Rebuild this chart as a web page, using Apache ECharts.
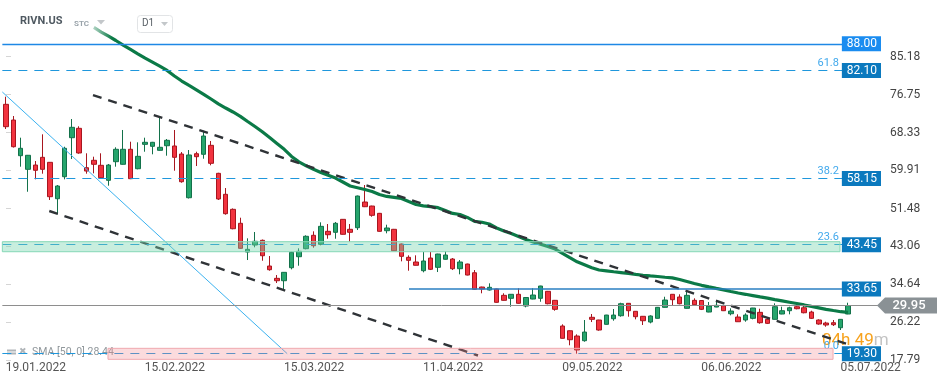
<!DOCTYPE html>
<html><head><meta charset="utf-8">
<script src="https://cdn.jsdelivr.net/npm/echarts@6/dist/echarts.min.js"></script>
<style>html,body{margin:0;padding:0;background:#fff;}#c{width:949px;height:385px;}</style>
</head><body><div id="c"></div>
<script>
// ---------- data ----------
const dates = [
 '18.01.2022','19.01.2022','20.01.2022','21.01.2022','24.01.2022','25.01.2022','26.01.2022','27.01.2022','28.01.2022','31.01.2022',
 '01.02.2022','02.02.2022','03.02.2022','04.02.2022','07.02.2022','08.02.2022','09.02.2022','10.02.2022','11.02.2022','14.02.2022','15.02.2022','16.02.2022','17.02.2022','18.02.2022','22.02.2022','23.02.2022','24.02.2022','25.02.2022','28.02.2022',
 '01.03.2022','02.03.2022','03.03.2022','04.03.2022','07.03.2022','08.03.2022','09.03.2022','10.03.2022','11.03.2022','14.03.2022','15.03.2022','16.03.2022','17.03.2022','18.03.2022','21.03.2022','22.03.2022','23.03.2022','24.03.2022','25.03.2022','28.03.2022','29.03.2022','30.03.2022','31.03.2022',
 '01.04.2022','04.04.2022','05.04.2022','06.04.2022','07.04.2022','08.04.2022','11.04.2022','12.04.2022','13.04.2022','14.04.2022','18.04.2022','19.04.2022','20.04.2022','21.04.2022','22.04.2022','25.04.2022','26.04.2022','27.04.2022','28.04.2022','29.04.2022',
 '02.05.2022','03.05.2022','04.05.2022','05.05.2022','06.05.2022','09.05.2022','10.05.2022','11.05.2022','12.05.2022','13.05.2022','16.05.2022','17.05.2022','18.05.2022','19.05.2022','20.05.2022','23.05.2022','24.05.2022','25.05.2022','26.05.2022','27.05.2022','31.05.2022',
 '01.06.2022','02.06.2022','03.06.2022','06.06.2022','07.06.2022','08.06.2022','09.06.2022','10.06.2022','13.06.2022','14.06.2022','15.06.2022','16.06.2022','17.06.2022','21.06.2022','22.06.2022','23.06.2022','24.06.2022','27.06.2022','28.06.2022','29.06.2022','30.06.2022',
 '01.07.2022','05.07.2022'
];
// [open, close, low, high]
const ohlc = [
 [74.58,69.62,69.11,76.27],[71.10,65.18,65.00,71.99],[63.19,64.83,60.75,67.18],[60.17,63.28,55.20,63.35],[61.12,59.95,57.95,62.01],
 [62.83,60.17,59.20,67.93],[61.72,54.10,53.37,61.79],[53.65,56.47,50.19,56.69],[58.53,64.83,57.95,65.18],[67.18,69.48,62.46,71.32],
 [69.26,63.79,63.63,69.71],[60.53,59.79,59.20,63.72],[62.17,61.28,59.28,62.97],[61.06,58.31,58.18,63.72],[57.73,61.12,56.54,61.35],
 [61.86,64.61,60.75,65.05],[61.28,64.61,61.20,68.89],[64.61,58.09,58.00,66.29],[60.30,63.05,60.17,66.16],[65.71,66.16,64.07,67.18],
 [65.27,66.16,63.50,66.25],[64.38,65.05,64.30,71.83],[65.40,66.60,63.19,66.89],[65.34,62.83,59.86,68.89],[63.56,57.42,57.20,64.00],
 [53.87,63.35,53.70,64.45],[63.63,62.97,60.90,64.07],[63.50,67.55,62.52,68.73],[65.49,61.50,61.06,66.45],[59.28,53.59,53.37,59.40],
 [54.63,50.33,50.11,56.02],[51.30,47.00,46.87,51.50],[48.20,42.65,42.55,49.44],[41.83,42.43,40.06,44.87],[43.39,44.21,42.88,46.27],
 [44.43,41.01,39.90,44.60],[38.73,37.91,37.69,40.95],[36.00,35.47,34.96,36.73],[35.47,37.33,33.63,37.40],[38.35,41.77,37.99,41.90],
 [40.79,41.99,38.80,42.65],[42.57,45.32,42.43,45.54],[45.54,43.23,42.79,46.42],[43.54,47.53,43.32,48.42],[46.42,45.67,44.78,48.04],
 [46.20,48.20,44.78,48.49],[49.08,45.76,45.70,49.15],[46.87,46.20,44.12,48.04],[47.22,54.25,46.71,54.35],[52.92,51.88,51.80,56.69],
 [52.03,49.97,49.66,52.10],[50.41,46.42,46.35,50.50],[46.56,47.16,45.98,47.89],[46.87,42.12,42.05,46.95],[43.61,40.88,39.77,43.70],
 [40.66,39.99,37.69,41.10],[39.62,38.89,38.85,41.10],[37.69,39.84,37.33,41.83],[40.50,38.00,37.84,41.83],[38.44,41.39,37.40,41.45],
 [40.22,41.17,40.15,41.99],[40.28,38.13,37.84,40.50],[38.13,39.62,36.89,40.06],[39.17,36.73,36.65,39.25],[37.24,33.56,33.41,37.84],
 [34.07,33.63,32.68,34.15],[33.41,34.01,33.30,34.89],[33.63,30.68,30.60,33.70],[32.23,31.12,31.05,32.68],[31.57,32.46,29.71,32.50],
 [32.46,30.46,30.40,33.79],[29.86,31.75,29.57,31.80],[31.41,32.30,31.35,33.79],[31.57,34.30,30.81,34.35],[33.12,30.37,30.24,33.20],
 [31.12,29.13,28.82,31.20],[25.43,22.70,22.65,25.80],[24.38,22.39,21.15,24.45],[23.21,20.11,19.30,23.58],[22.17,24.09,21.95,26.76],
 [27.36,26.91,26.31,28.09],[26.76,24.54,24.38,26.80],[25.80,27.86,25.75,27.90],[27.04,27.86,26.60,29.20],[27.71,30.37,27.49,30.59],
 [30.46,28.82,27.49,30.50],[28.69,27.49,26.91,28.75],[27.58,26.60,25.65,27.65],[26.31,27.65,26.02,27.80],[27.13,29.57,27.08,29.65],
 [29.57,31.19,29.52,31.92],[32.46,31.26,30.08,32.50],[31.86,30.37,30.24,32.46],[29.35,32.23,29.30,32.97],[31.12,30.15,30.12,31.57],
 [31.08,29.13,28.97,31.15],[28.53,29.86,28.48,30.75],[29.64,30.02,29.60,31.19],[29.93,28.82,28.75,29.98],[28.15,28.75,27.80,29.35],
 [27.42,26.38,26.35,28.02],[26.76,27.86,26.38,28.24],[27.13,29.42,26.91,29.45],[28.46,26.16,25.94,29.26],[26.91,26.02,25.87,27.36],
 [26.91,29.71,26.87,30.46],[28.09,28.82,28.05,29.71],[28.82,29.48,28.02,29.71],[29.71,29.26,29.13,30.59],[29.48,28.37,28.24,30.02],
 [28.53,27.13,26.98,28.82],[26.76,25.87,25.72,26.91],[26.09,25.65,25.27,26.38],[26.16,25.72,25.43,26.76],[25.05,26.91,24.54,26.95],
 [28.09,29.95,28.05,30.59]
];
const sma50 = [null,null,null,null,null,null,null,null,null,null,null,null,
 91.63,90.61,89.68,88.73,87.73,86.76,85.78,84.81,83.92,83.03,82.10,80.86,79.75,78.77,77.80,76.80,75.76,74.67,
 73.76,72.88,71.92,70.77,69.66,68.49,67.20,65.91,64.61,63.03,61.83,60.95,60.17,59.48,58.84,58.22,57.36,56.47,
 56.09,55.71,55.25,54.58,54.16,53.96,53.70,53.03,52.37,52.08,51.88,51.66,51.04,50.39,50.15,49.51,48.64,48.44,
 48.04,47.16,46.49,45.94,45.29,44.63,44.05,43.56,43.08,42.50,41.55,40.59,39.66,39.00,38.33,37.84,37.66,37.46,
 37.27,37.07,36.87,36.69,36.53,36.40,36.24,36.09,35.74,35.31,34.87,34.45,34.10,33.76,33.43,33.08,32.74,32.46,
 32.17,31.88,31.61,31.28,30.99,30.70,30.41,30.10,29.77,29.46,29.13,28.86,28.60,28.44];
const yTicks = [17.79, 26.22, 34.64, 43.06, 51.48, 59.91, 68.33, 76.75, 85.18];
const xTickDates = ['19.01.2022','15.02.2022','15.03.2022','11.04.2022','09.05.2022','06.06.2022','05.07.2022'];
const highLevel = 88.00;
const fibPrices = [82.10, 58.15, 43.45, 19.30];
const fibRatios = ['61.8', '38.2', '23.6', '0.0'];
const resistLevel = 33.65;
const lastPrice = 29.95;
const smaLabel = 'SMA [50, 0] 28.44';
const boxPrices = [88.00, 82.10, 58.15, 43.45, 33.65, 19.30];
// drawing-tool anchors: [bar index, price]
const upperTrend = [[11.88, 76.64], [114.86, 21.43]];
const lowerTrend = [[5.91, 50.93], [64.46, 18.89]];
const fibDiagonal = [[-0.5, 77.31], [38.4, 19.30]];
const greenZone = [-0.5, 41.90, 113.9, 44.12];
const pinkZone = [13.93, 18.04, 112.95, 20.48];
const levelEnd = 114.6, fibEnd = 114.3, resistStart = 55.04;

// ---------- chart ----------
const padSlots = 4;
const cats = dates.concat(new Array(padSlots).fill(''));
const xMin = -0.5, xMax = cats.length - 0.5;
const yMin = 17.45, yMax = 97.71;
const FONT = 'Roboto';

const chart = echarts.init(document.getElementById('c'), null, {renderer: 'canvas'});

const fibLines = fibPrices.map((p, i) => [
  {coord: [xMin, p], lineStyle: {color: '#1f97dc', width: 1.2, type: [9, 7]},
   label: {show: true, position: 'insideEndTop', formatter: fibRatios[i], color: '#42a9ec',
           fontSize: 11, fontFamily: FONT, distance: [4, 2]}},
  {coord: [fibEnd, p]}
]);

const zoneRender = (fill, stroke) => function (params, api) {
  const a = api.coord([api.value(0), api.value(1)]);
  const b = api.coord([api.value(2), api.value(3)]);
  return {type: 'rect',
    shape: {x: Math.min(a[0], b[0]), y: Math.min(a[1], b[1]), width: Math.abs(b[0] - a[0]), height: Math.abs(b[1] - a[1])},
    style: {fill: fill, stroke: stroke, lineWidth: 1}};
};

const option = {
  animation: false,
  backgroundColor: '#fff',
  grid: {left: 2.34, right: 68, top: 0, bottom: 23, containLabel: false, outerBoundsMode: 'none'},
  xAxis: [
    {type: 'category', data: cats, boundaryGap: true, gridIndex: 0,
     axisLine: {show: false}, axisTick: {show: false}, splitLine: {show: false},
     axisLabel: {interval: (i, v) => xTickDates.indexOf(v) >= 0, color: '#555', fontSize: 12, fontFamily: FONT,
                 margin: 0, padding: [0, 0, 0, 45], hideOverlap: false}},
    {type: 'value', min: xMin, max: xMax, show: false, gridIndex: 0}
  ],
  yAxis: [
    {type: 'value', position: 'right', min: yMin, max: yMax, scale: true,
     splitLine: {show: false}, axisLine: {show: false},
     axisTick: {show: true, length: 5, lineStyle: {color: '#d5d5d5'}, customValues: yTicks},
     axisLabel: {customValues: yTicks, formatter: v => v.toFixed(2), color: '#444', fontSize: 12, fontFamily: FONT, margin: 9}},
    {type: 'value', position: 'right', min: yMin, max: yMax, scale: true,
     splitLine: {show: false}, axisLine: {show: false}, axisTick: {show: false},
     axisLabel: {inside: true, margin: 0, customValues: boxPrices,
       formatter: v => (Math.abs(v - highLevel) < 1e-6 ? '{a|' : '{b|') + v.toFixed(2) + '}',
       rich: {
         a: {backgroundColor: '#1a8cf0', color: '#fff', fontSize: 12, fontFamily: FONT, padding: [2, 4, 1, 5], lineHeight: 12},
         b: {backgroundColor: '#0b79be', color: '#fff', fontSize: 12, fontFamily: FONT, padding: [2, 4, 1, 5], lineHeight: 12}
       }}, z: 20}
  ],
  series: [
    {type: 'candlestick', name: 'RIVN.US', xAxisIndex: 0, yAxisIndex: 0, data: ohlc, barWidth: 5, z: 2,
     itemStyle: {color: '#25a56c', color0: '#f2333f', borderColor: '#13714a', borderColor0: '#a8161f', borderWidth: 1}},
    {type: 'line', name: 'SMA50', xAxisIndex: 0, yAxisIndex: 0, data: sma50, showSymbol: false, z: 3,
     lineStyle: {width: 3.2, color: new echarts.graphic.LinearGradient(86, 0, 112, 0,
        [{offset: 0, color: 'rgba(11,122,71,0.05)'}, {offset: 1, color: '#0b7a47'}], true)}},
    {type: 'line', xAxisIndex: 1, yAxisIndex: 0, data: upperTrend, showSymbol: false, z: 4,
     lineStyle: {color: '#2f3337', width: 2.4, type: [9, 7]}},
    {type: 'line', xAxisIndex: 1, yAxisIndex: 0, data: lowerTrend, showSymbol: false, z: 4,
     lineStyle: {color: '#2f3337', width: 2.4, type: [9, 7]}},
    {type: 'line', xAxisIndex: 1, yAxisIndex: 0, data: fibDiagonal, showSymbol: false, z: 4,
     lineStyle: {color: '#3bb2f0', width: 1}},
    {type: 'line', xAxisIndex: 1, yAxisIndex: 0, data: [], z: 6,
     markLine: {silent: true, symbol: ['none', 'none'], animation: false, label: {show: false},
       data: [
         [{coord: [xMin, highLevel], lineStyle: {color: '#1e88e5', width: 1.3, type: 'solid'}}, {coord: [levelEnd, highLevel]}],
         ...fibLines,
         [{coord: [resistStart, resistLevel], lineStyle: {color: '#2a7fc2', width: 1.6, type: 'solid'}}, {coord: [levelEnd, resistLevel]}],
         [{coord: [xMin, lastPrice], lineStyle: {color: '#8e8e8e', width: 1, type: 'solid'}}, {coord: [xMax, lastPrice]}]
       ]},
     markPoint: {silent: true, animation: false,
       data: [{coord: [xMax, lastPrice], symbol: 'path://M0,8 L8,0 L60,0 L60,16 L8,16 Z', symbolSize: [60, 16],
               symbolKeepAspect: false, symbolOffset: [26, 0], itemStyle: {color: '#8a9195'},
               label: {show: true, position: 'inside', formatter: lastPrice.toFixed(2), color: '#fff', fontSize: 13,
                       fontFamily: FONT, fontWeight: 500, offset: [2, 0]}}]}},
    {type: 'custom', xAxisIndex: 1, yAxisIndex: 0, data: [greenZone], z: 8, silent: true,
     renderItem: zoneRender('rgba(118,212,172,0.4)', '#86d8b6')},
    {type: 'custom', xAxisIndex: 1, yAxisIndex: 0, data: [pinkZone], z: 8, silent: true,
     renderItem: zoneRender('rgba(242,135,142,0.3)', '#f0aab0')}
  ],
  graphic: [
    {type: 'text', left: 20, top: 16, style: {text: 'RIVN.US', font: 'bold 11px Roboto', fill: '#4f5961'}},
    {type: 'text', left: 74, top: 20, style: {text: 'STC', font: 'bold 8px Roboto', fill: '#9aa4ab'}},
    {type: 'polygon', shape: {points: [[97, 20], [105, 20], [101, 24.5]]}, style: {fill: '#c3c7ca'}},
    {type: 'rect', shape: {x: 137.5, y: 15.5, width: 35, height: 17, r: 3}, style: {fill: 'none', stroke: '#e2e4e6', lineWidth: 1}},
    {type: 'text', left: 142, top: 18, style: {text: 'D1', font: '10px Roboto', fill: '#5a6167'}},
    {type: 'polygon', shape: {points: [[161, 22], [168, 22], [164.5, 26]]}, style: {fill: '#c3c7ca'}},
    {type: 'rect', shape: {x: 7, y: 349.5, width: 9, height: 2}, style: {fill: '#b0b5b9'}},
    {type: 'rect', shape: {x: 7, y: 352.5, width: 9, height: 2}, style: {fill: '#b0b5b9'}},
    {type: 'text', left: 19, top: 347, style: {text: '✖', font: '9px DejaVu Sans', fill: '#b0b5b9'}},
    {type: 'text', left: 32, top: 347, style: {text: smaLabel, font: '10.5px Roboto', fill: 'rgba(125,133,138,0.85)'}},
    {type: 'text', left: 822, top: 332, z: 1,
     style: {text: '{o|04h 49}{g|m}', rich: {o: {font: '17px Roboto', fill: '#f7a21c'}, g: {font: '17px Roboto', fill: '#c3c3c3'}}}}
  ]
};
chart.setOption(option);
</script></body></html>
